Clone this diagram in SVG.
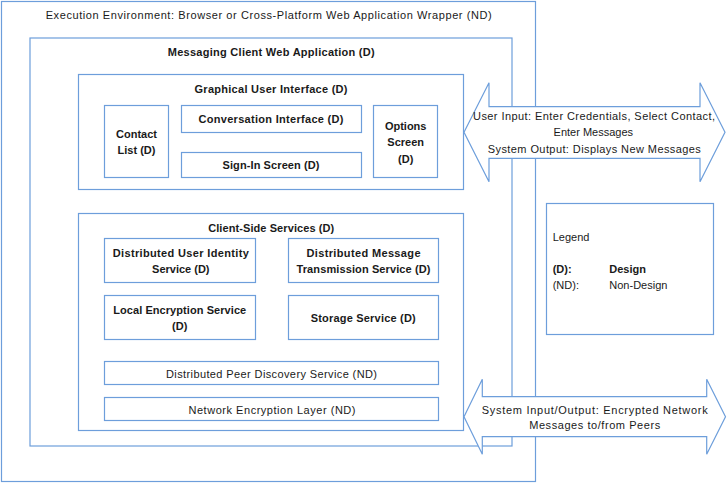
<svg xmlns="http://www.w3.org/2000/svg" width="727" height="483" viewBox="0 0 727 483">
<style>
.box{fill:none;stroke:#6D9EDB;stroke-width:1.2}
.wbox{fill:#fff;stroke:#6D9EDB;stroke-width:1.2}
.arr{fill:#fff;stroke:#6D9EDB;stroke-width:1.2;stroke-linejoin:miter}
text{font-family:"Liberation Sans",Arial,sans-serif;font-size:11px;fill:#1a1a1a;text-anchor:middle;dominant-baseline:central}
.b{font-weight:bold}
.l{text-anchor:start}
</style>
<rect width="727" height="483" fill="#fff"/>
<g id="execution-environment">
<rect class="box" x="1.5" y="1.5" width="534" height="480"/>
<text x="268.7" y="15" textLength="446" lengthAdjust="spacing">Execution Environment: Browser or Cross-Platform Web Application Wrapper (ND)</text>
</g>
<g id="messaging-client">
<rect class="box" x="30" y="38" width="482" height="408"/>
<text class="b" x="271.2" y="52" textLength="207" lengthAdjust="spacing">Messaging Client Web Application (D)</text>
</g>
<g id="gui">
<rect class="box" x="78.5" y="74.5" width="385" height="115"/>
<text class="b" x="271" y="88.5" textLength="153" lengthAdjust="spacing">Graphical User Interface (D)</text>
</g>
<g id="contact-list">
<rect class="box" x="104.5" y="105.5" width="64" height="72"/>
<text class="b" x="136.5" y="133.5">Contact</text>
<text class="b" x="136.5" y="150">List (D)</text>
</g>
<g id="conversation-interface">
<rect class="box" x="181.5" y="105.5" width="180" height="27"/>
<text class="b" x="271" y="119" textLength="145" lengthAdjust="spacing">Conversation Interface (D)</text>
</g>
<g id="sign-in-screen">
<rect class="box" x="181.5" y="152.5" width="180" height="25"/>
<text class="b" x="271" y="165" textLength="97" lengthAdjust="spacing">Sign-In Screen (D)</text>
</g>
<g id="options-screen">
<rect class="box" x="373.5" y="105.5" width="64" height="72"/>
<text class="b" x="405.7" y="126">Options</text>
<text class="b" x="405.7" y="142">Screen</text>
<text class="b" x="405.7" y="158.5">(D)</text>
</g>
<g id="client-side-services">
<rect class="box" x="78.5" y="213.5" width="385" height="217"/>
<text class="b" x="271.2" y="227.5" textLength="126" lengthAdjust="spacing">Client-Side Services (D)</text>
</g>
<g id="user-identity">
<rect class="box" x="104.5" y="238.5" width="151" height="44"/>
<text class="b" x="180.8" y="252.5" textLength="136" lengthAdjust="spacing">Distributed User Identity</text>
<text class="b" x="180.8" y="268.5">Service (D)</text>
</g>
<g id="message-transmission">
<rect class="box" x="288.5" y="238.5" width="150" height="44"/>
<text class="b" x="363.5" y="252.5" textLength="114" lengthAdjust="spacing">Distributed Message</text>
<text class="b" x="363.5" y="268.5" textLength="134" lengthAdjust="spacing">Transmission Service (D)</text>
</g>
<g id="local-encryption">
<rect class="box" x="104.5" y="295.5" width="151" height="44"/>
<text class="b" x="179.7" y="309.5" textLength="133" lengthAdjust="spacing">Local Encryption Service</text>
<text class="b" x="179.7" y="326">(D)</text>
</g>
<g id="storage-service">
<rect class="box" x="288.5" y="295.5" width="150" height="44"/>
<text class="b" x="363.2" y="317.5" textLength="105" lengthAdjust="spacing">Storage Service (D)</text>
</g>
<g id="peer-discovery">
<rect class="box" x="104.5" y="361.5" width="334" height="23"/>
<text x="271.5" y="373.5" textLength="211" lengthAdjust="spacing">Distributed Peer Discovery Service (ND)</text>
</g>
<g id="network-encryption">
<rect class="box" x="104.5" y="397.5" width="334" height="23"/>
<text x="272" y="409.5" textLength="167" lengthAdjust="spacing">Network Encryption Layer (ND)</text>
</g>
<g id="legend">
<rect class="box" x="546.5" y="203.5" width="167" height="131"/>
<text class="l" x="552.7" y="237">Legend</text>
<text class="l b" x="552.7" y="269">(D):</text>
<text class="l b" x="609.3" y="269">Design</text>
<text class="l" x="552.7" y="285">(ND):</text>
<text class="l" x="609.3" y="285">Non-Design</text>
</g>
<g id="connectors">
<g id="user-io">
<polygon class="arr" points="464,132.2 489,82.7 489,106.7 700,106.7 700,82.7 725,132.2 700,181.7 700,158.3 489,158.3 489,181.7"/>
<text x="594" y="116" textLength="242" lengthAdjust="spacing">User Input: Enter Credentials, Select Contact,</text>
<text x="593.3" y="132">Enter Messages</text>
<text x="594.3" y="148.5" textLength="213" lengthAdjust="spacing">System Output: Displays New Messages</text>
</g>
<g id="network-io">
<polygon class="arr" points="464,416.8 482.3,379.3 482.3,396.7 706.7,396.7 706.7,379.3 725.5,416.8 706.7,454.3 706.7,436.7 482.3,436.7 482.3,454.3"/>
<text x="594.7" y="409.5" textLength="226" lengthAdjust="spacing">System Input/Output: Encrypted Network</text>
<text x="594.7" y="425" textLength="131" lengthAdjust="spacing">Messages to/from Peers</text>
</g>
</g>
</svg>
